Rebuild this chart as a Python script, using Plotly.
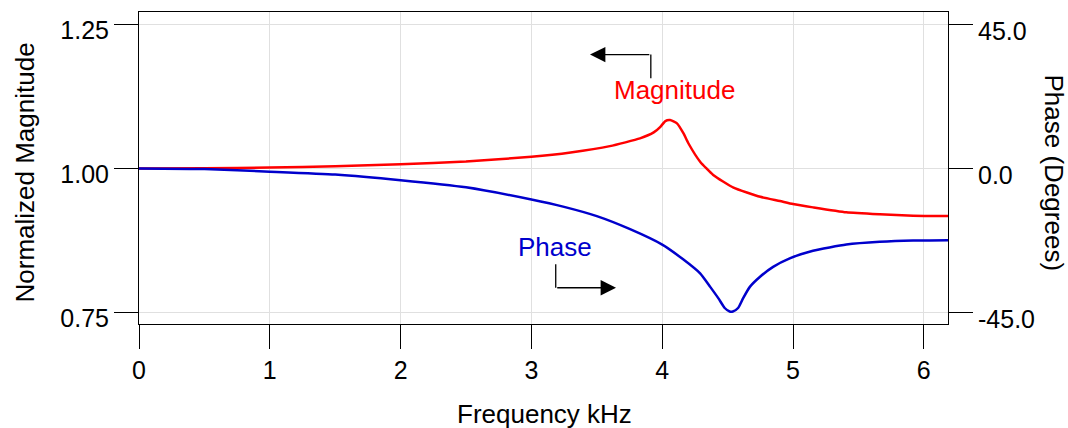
import plotly.graph_objects as go

# Magnitude (left axis)
mag_freq = [0.0, 0.5, 1.0, 1.5, 2.0, 2.5, 3.0, 3.3, 3.6, 3.83, 3.935, 3.986, 4.024, 4.06,
            4.113, 4.163, 4.20, 4.29, 4.39, 4.545, 4.75, 4.90, 5.0, 5.153, 5.408, 5.663, 5.918, 6.185]
mag_vals = [1.000, 1.0005, 1.0017, 1.004, 1.0075, 1.0122, 1.0205, 1.028, 1.039, 1.0524, 1.0628,
            1.0726, 1.0825, 1.0842, 1.0785, 1.061, 1.044, 1.012, 0.989, 0.967, 0.951, 0.9436, 0.9384,
            0.9326, 0.924, 0.9205, 0.918, 0.9175]

# Phase (right axis, degrees)
ph_freq = [0.0, 0.5, 1.0, 1.5, 2.0, 2.5, 3.0, 3.25, 3.5, 3.75, 4.0, 4.16, 4.29, 4.367, 4.43, 4.478,
           4.516, 4.54, 4.58, 4.618, 4.67, 4.746, 4.848, 4.975, 5.153, 5.408, 5.663, 5.918, 6.185]
ph_vals = [0.0, -0.2, -1.0, -1.9, -3.66, -5.9, -9.7, -12.0, -14.9, -18.9, -23.8, -28.4, -32.8, -37.0,
           -40.6, -43.6, -44.7, -44.7, -43.6, -40.6, -37.0, -33.9, -30.75, -28.1, -25.7, -23.75, -22.9,
           -22.5, -22.4]

x_ticks = [0, 1, 2, 3, 4, 5, 6]
y_ticks = [0.75, 1.00, 1.25]
y_ticktext = ["0.75", "1.00", "1.25"]
y2_ticks = [-45, 0, 45]
y2_ticktext = ["-45.0", "0.0", "45.0"]

FONT = "Arial, 'Liberation Sans', sans-serif"
RED = "#ff0000"
BLUE = "#0000cc"
TICK_SIZE = 25
TITLE_SIZE = 26

fig = go.Figure()
fig.add_trace(go.Scatter(x=mag_freq, y=mag_vals, mode="lines",
                         line=dict(color=RED, width=2.5, shape="spline", smoothing=0.5),
                         yaxis="y", showlegend=False, hoverinfo="skip"))
fig.add_trace(go.Scatter(x=ph_freq, y=ph_vals, mode="lines",
                         line=dict(color=BLUE, width=2.5, shape="spline", smoothing=0.5),
                         yaxis="y2", showlegend=False, hoverinfo="skip"))

axis_common = dict(showline=True, linecolor="black", linewidth=1, ticks="outside", ticklen=24,
                   tickcolor="black", tickwidth=1, tickfont=dict(family=FONT, size=TICK_SIZE, color="black"),
                   zeroline=False, automargin=False)

fig.update_layout(
    width=1068, height=428,
    margin=dict(l=139, r=120, t=12, b=104),
    paper_bgcolor="white", plot_bgcolor="white",
    font=dict(family=FONT, size=TICK_SIZE, color="black"),
    xaxis=dict(range=[0, 6.185], tickvals=x_ticks, mirror=True, showgrid=True, gridcolor="#e0e0e0",
               **axis_common),
    yaxis=dict(range=[0.73, 1.272], tickvals=y_ticks, ticktext=y_ticktext, mirror=True, showgrid=True,
               gridcolor="#e0e0e0", ticklabelshift=6, **axis_common),
    yaxis2=dict(range=[-48.6, 48.9], tickvals=y2_ticks, ticktext=y2_ticktext, overlaying="y", side="right",
                showgrid=False, ticklabelshift=7, **axis_common),
)

# axis titles
fig.add_annotation(x=0.5015, y=-0.288, xref="paper", yref="paper", text="Frequency kHz", showarrow=False,
                   xanchor="center", yanchor="middle", font=dict(family=FONT, size=TITLE_SIZE, color="black"))
fig.add_annotation(x=-0.1409, y=0.4856, xref="paper", yref="paper", text="Normalized Magnitude",
                   showarrow=False, textangle=-90, xanchor="center", yanchor="middle",
                   font=dict(family=FONT, size=TITLE_SIZE, color="black"))
fig.add_annotation(x=1.131, y=0.4824, xref="paper", yref="paper", text="Phase (Degrees)",
                   showarrow=False, textangle=90, xanchor="center", yanchor="middle",
                   font=dict(family=FONT, size=TITLE_SIZE, color="black"))

# annotation labels
fig.add_annotation(x=4.091, y=1.136, xref="x", yref="y", text="Magnitude", showarrow=False,
                   font=dict(family=FONT, size=TITLE_SIZE, color=RED))
fig.add_annotation(x=3.181, y=0.864, xref="x", yref="y", text="Phase", showarrow=False,
                   font=dict(family=FONT, size=TITLE_SIZE, color=BLUE))

# bent arrows
fig.add_shape(type="line", x0=3.913, x1=3.913, y0=1.157, y1=1.198, xref="x", yref="y",
              line=dict(color="black", width=1.3))
fig.add_annotation(x=3.448, y=1.198, ax=3.913, ay=1.198, xref="x", yref="y", axref="x", ayref="y",
                   text="", showarrow=True, arrowhead=2, arrowsize=2.2, arrowwidth=1.4, arrowcolor="black")
fig.add_shape(type="line", x0=3.186, x1=3.186, y0=0.834, y1=0.793, xref="x", yref="y",
              line=dict(color="black", width=1.3))
fig.add_annotation(x=3.647, y=0.793, ax=3.186, ay=0.793, xref="x", yref="y", axref="x", ayref="y",
                   text="", showarrow=True, arrowhead=2, arrowsize=2.2, arrowwidth=1.4, arrowcolor="black")

fig.write_html("out.html")
